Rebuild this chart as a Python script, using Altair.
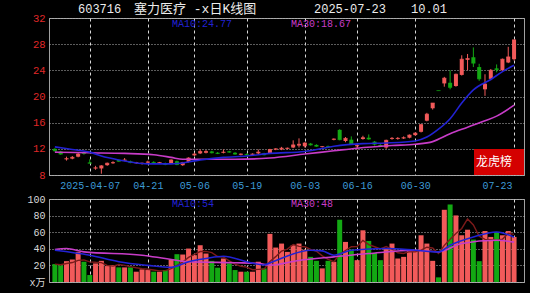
import altair as alt
import pandas as pd

# ---------------- values ----------------
opens = [12.0, 11.6, 10.4, 10.5, 10.8, 11.5, 9.9, 9.0, 9.0, 9.5,
         9.8, 10.3, 10.2, 10.1, 9.8, 9.7, 9.9, 10.0, 9.8, 9.8,
         9.8, 10.1, 9.5, 10.0, 11.0, 11.3, 11.4, 11.6, 11.4, 11.4,
         11.6, 11.4, 11.1, 11.2, 11.1, 11.3, 11.3, 11.3, 11.9, 11.9,
         12.0, 12.2, 12.5, 12.4, 12.8, 12.6, 12.3, 12.4, 13.4, 14.9,
         13.2, 13.4, 12.4, 13.5, 13.7, 13.1, 12.6, 12.2, 13.5, 13.5,
         13.6, 13.7, 14.1, 14.6, 16.3, 18.2, 20.92, 22.0, 22.1, 21.6,
         23.3, 25.6, 26.0, 24.5, 21.1, 22.7, 24.3, 24.0, 25.2, 25.7]
highs = [12.1, 11.7, 10.8, 10.9, 11.4, 11.6, 10.4, 9.4, 9.5, 9.9,
         10.1, 10.4, 10.6, 10.2, 10.0, 9.9, 10.2, 10.1, 10.0, 9.9,
         10.4, 10.2, 10.0, 10.7, 11.4, 11.9, 11.8, 11.7, 11.5, 11.9,
         11.7, 11.5, 11.3, 11.3, 11.3, 11.9, 11.4, 12.0, 12.1, 12.3,
         12.2, 13.3, 13.6, 13.0, 12.9, 12.7, 12.4, 12.5, 13.6, 15.0,
         13.8, 13.9, 12.9, 14.0, 14.2, 13.2, 12.7, 13.4, 13.8, 13.8,
         13.9, 14.2, 14.5, 15.8, 17.5, 19.0, 20.92, 23.0, 24.0, 23.5,
         26.3, 26.5, 27.5, 25.0, 23.4, 24.2, 24.9, 25.8, 27.6, 28.66]
lows = [11.6, 11.1, 10.2, 10.4, 10.7, 11.1, 9.8, 8.8, 8.2, 9.4,
        9.7, 10.0, 10.1, 9.8, 9.7, 9.6, 9.8, 9.8, 9.7, 9.5,
        9.7, 9.5, 9.4, 9.9, 10.9, 11.2, 11.3, 11.3, 11.2, 11.3,
        11.4, 11.1, 11.0, 11.0, 11.0, 11.2, 11.0, 11.2, 11.8, 11.8,
        11.9, 12.1, 12.2, 12.2, 12.5, 12.3, 12.2, 12.2, 13.3, 13.3,
        13.0, 12.6, 11.9, 13.4, 13.4, 12.5, 12.3, 12.0, 13.4, 13.4,
        13.5, 13.6, 14.0, 14.5, 16.2, 18.0, 20.9, 21.5, 21.1, 21.5,
        23.2, 24.0, 24.5, 22.4, 20.1, 22.5, 23.7, 23.9, 25.1, 25.5]
closes = [11.7, 11.2, 10.5, 10.7, 11.2, 11.3, 9.8, 9.1, 9.4, 9.8,
          9.9, 10.1, 10.3, 9.9, 9.9, 9.8, 10.0, 9.9, 9.9, 9.6,
          10.3, 9.6, 9.9, 10.6, 11.2, 11.6, 11.6, 11.4, 11.3, 11.5,
          11.5, 11.2, 11.2, 11.1, 11.2, 11.5, 11.1, 11.9, 12.0, 12.1,
          12.1, 12.6, 12.7, 12.9, 12.6, 12.4, 12.35, 12.3, 13.5, 13.4,
          13.6, 12.7, 12.5, 13.7, 13.5, 12.7, 12.4, 13.3, 13.6, 13.6,
          13.7, 14.1, 14.4, 15.7, 17.3, 19.0, 20.9, 22.8, 21.4, 23.4,
          25.7, 25.8, 25.1, 22.7, 21.9, 24.0, 24.1, 25.7, 26.05, 28.66]
volumes = [21.6, 20.0, 25.1, 27.1, 36.3, 24.4, 8.4, 22.4, 25.5, 19.2,
           20.4, 17.6, 17.6, 17.6, 12.4, 15.2, 14.4, 12.4, 12.4, 14.4,
           27.1, 33.5, 33.1, 40.3, 32.3, 44.3, 34.3, 25.5, 17.2, 28.3,
           22.4, 14.4, 12.4, 12.4, 12.4, 24.4, 16.4, 58.0, 41.5, 46.3,
           36.3, 44.3, 46.3, 39.0, 30.3, 25.5, 16.4, 25.5, 24.4, 75.0,
           48.3, 39.0, 26.3, 62.3, 49.5, 35.1, 26.3, 40.3, 46.3, 28.3,
           30.3, 38.3, 38.3, 56.3, 46.3, 25.5, 5.6, 87.0, 93.4, 80.2,
           56.3, 63.0, 51.1, 25.1, 61.4, 54.3, 60.3, 56.3, 61.4, 54.3]

date_idx = [6, 16, 24, 33, 43, 52, 62, 79]
date_lbl = ["2025-04-07", "04-21", "05-06", "05-19", "06-03", "06-16", "06-30", "07-23"]

ma10_idx = [0, 3, 6, 8, 11, 13, 16, 20, 23, 25, 29, 33, 37, 43, 48, 53, 57, 62, 64, 66, 68, 70, 72, 75, 77, 79]
ma10_val = [12.3, 11.9, 11.5, 10.9, 10.3, 10.0, 9.7, 9.7, 10.0, 10.3, 10.7, 10.9, 11.3, 11.6, 12.4, 12.8,
            12.9, 13.2, 13.8, 15.0, 16.6, 19.0, 21.0, 22.6, 23.8, 24.77]
ma30_idx = [0, 6, 12, 17, 20, 22, 25, 31, 37, 43, 48, 52, 58, 62, 65, 68, 71, 74, 76, 79]
ma30_val = [11.5, 11.4, 11.3, 11.1, 10.7, 10.4, 10.4, 10.4, 10.6, 11.2, 11.7, 12.1, 12.5, 12.7, 13.1,
            14.3, 15.3, 16.3, 17.0, 18.67]
vma10_idx = [0, 6, 11, 16, 20, 23, 26, 29, 33, 36, 37, 44, 46, 48, 51, 57, 62, 66, 68, 72, 76, 79]
vma10_val = [38.3, 32.3, 24.4, 20.0, 17.6, 24.4, 28.3, 31.0, 24.4, 20.5, 23.0, 38.3, 37.5, 32.3, 38.3,
             40.3, 38.3, 36.3, 44.3, 54.3, 60.3, 54.0]
vma30_idx = [0, 2, 5, 15, 19, 23, 31, 35, 37, 42, 48, 54, 62, 66, 70, 76, 79]
vma30_val = [39.0, 40.3, 36.3, 32.3, 28.3, 24.4, 23.2, 22.4, 20.4, 26.0, 30.3, 34.3, 38.3, 36.3, 46.3, 50.3, 48.0]

price_ticks = [8, 12, 16, 20, 24, 28, 32]
vol_ticks = [0, 20, 40, 60, 80, 100]

header = ["603716", "塞力医疗 -x日K线图", "2025-07-23", "10.01"]

# ---------------- styles ----------------
RED = "#f25a5a"
GREEN = "#13a813"
BLUE = "#2222d4"
PURPLE = "#c83cc8"
DARKRED = "#7c1a1a"
MONO = "Liberation Mono, Noto Sans CJK SC"
CJK = "Liberation Mono, Noto Sans CJK SC"

n = len(closes)
df = pd.DataFrame({"i": list(range(n)), "open": opens, "high": highs, "low": lows,
                   "close": closes, "vol": volumes})
df["dir"] = ["up" if c >= o else "down" for o, c in zip(opens, closes)]

ma10_df = pd.DataFrame({"i": ma10_idx, "v": ma10_val})
ma30_df = pd.DataFrame({"i": ma30_idx, "v": ma30_val})
vma10_df = pd.DataFrame({"i": vma10_idx, "v": vma10_val})
vma30_df = pd.DataFrame({"i": vma30_idx, "v": vma30_val})

xscale = alt.Scale(domain=[-0.15, 79.85], nice=False, zero=False)
pscale = alt.Scale(domain=[8, 32], nice=False, zero=False)
vscale = alt.Scale(domain=[0, 100], nice=False)
color = alt.Color("dir:N", scale=alt.Scale(domain=["up", "down"], range=[RED, GREEN]), legend=None)

label_expr = "[" + ",".join(repr(s) for s in date_lbl) + "][indexof([" + ",".join(str(v) for v in date_idx) + "], datum.value)]"
last_test = f"datum.value == {date_idx[-1]}"

x_top_axis = alt.Axis(values=date_idx, labelExpr=label_expr, labelColor="#3d9ad6", labelFont=MONO,
                      labelFontSize=10, labelPadding=5, ticks=False, domain=False, grid=True,
                      gridColor="#d8d8d8", gridDash=[3, 3], gridWidth=1, labelFlush=False,
                      labelAlign={"condition": {"test": last_test, "value": "right"}, "value": "center"},
                      labelOffset={"condition": {"test": last_test, "value": -2}, "value": 0},
                      labelOverlap=False, title=None)
x_bot_axis = alt.Axis(values=date_idx, labels=False, ticks=False, domain=False, grid=True,
                      gridColor="#d8d8d8", gridDash=[3, 3], gridWidth=1, title=None)
y_price_axis = alt.Axis(values=price_ticks, labelColor="#e02828", labelFont=MONO, labelFontSize=10.5,
                        labelPadding=4, ticks=False, domain=False, grid=True, gridColor="#b8b8b8",
                        gridDash=[1, 2], gridWidth=1, title=None, labelOverlap=False)
y_vol_axis = alt.Axis(values=vol_ticks, labelExpr="datum.value == 0 ? 'x万' : datum.value",
                      labelColor="#d8d8d8", labelFont=MONO, labelFontSize=10, labelPadding=4,
                      ticks=False, domain=False, grid=True, gridColor="#b8b8b8", gridDash=[1, 2],
                      gridWidth=1, title=None, labelOverlap=False)

X_top = alt.X("i:Q", scale=xscale, axis=x_top_axis)
X_bot = alt.X("i:Q", scale=xscale, axis=x_bot_axis)


def label(text, x, y, col, size=10, font=MONO, align="left"):
    return alt.Chart(pd.DataFrame({"t": [text]})).mark_text(
        align=align, baseline="middle", font=font, fontSize=size, color=col
    ).encode(x=alt.value(x), y=alt.value(y), text="t:N")


# ---------------- price panel ----------------
wick = alt.Chart(df).mark_rule(strokeWidth=1).encode(
    x=X_top, y=alt.Y("low:Q", scale=pscale, axis=y_price_axis), y2="high:Q", color=color)
body = alt.Chart(df).mark_bar(size=4).encode(
    x=X_top, y=alt.Y("open:Q", scale=pscale, axis=y_price_axis), y2="close:Q", color=color)
doji = alt.Chart(df).mark_tick(thickness=1, size=4, orient="horizontal").encode(
    x=X_top, y=alt.Y("close:Q", scale=pscale, axis=y_price_axis), color=color)
l10 = alt.Chart(ma10_df).mark_line(color=BLUE, strokeWidth=1.6, interpolate="monotone").encode(
    x=X_top, y=alt.Y("v:Q", scale=pscale, axis=y_price_axis))
l30 = alt.Chart(ma30_df).mark_line(color=PURPLE, strokeWidth=1.6, interpolate="monotone").encode(
    x=X_top, y=alt.Y("v:Q", scale=pscale, axis=y_price_axis))

box = alt.Chart(pd.DataFrame({"t": ["龙虎榜"]})).mark_rect(color="#d40000").encode(
    x=alt.value(425), x2=alt.value(475), y=alt.value(131), y2=alt.value(157))

top = alt.layer(
    wick, body, doji, l30, l10, box,
    label("龙虎榜", 427, 144, "#ffffff", 12, CJK),
    label(f"MA10:{ma10_val[-1]:.2f}", 123, 6, BLUE),
    label(f"MA30:{ma30_val[-1]:.2f}", 242, 6, PURPLE),
    label(header[0], 29, -9, "#ececec", 12),
    label(header[1], 85, -9, "#ececec", 13, CJK),
    label(header[2], 265, -9, "#ececec", 12),
    label(header[3], 362, -9, "#ececec", 12),
).properties(width=475, height=157)

# ---------------- volume panel ----------------
vbars = alt.Chart(df).mark_bar(size=5).encode(
    x=X_bot, y=alt.Y("vol:Q", scale=vscale, axis=y_vol_axis), color=color)
vma5 = alt.Chart(df).transform_window(
    ma5="mean(vol)", frame=[-4, 0], sort=[alt.SortField("i")]
).mark_line(color=DARKRED, strokeWidth=1.4).encode(
    x=X_bot, y=alt.Y("ma5:Q", scale=vscale, axis=y_vol_axis))
v10 = alt.Chart(vma10_df).mark_line(color=BLUE, strokeWidth=1.6, interpolate="monotone").encode(
    x=X_bot, y=alt.Y("v:Q", scale=vscale, axis=y_vol_axis))
v30 = alt.Chart(vma30_df).mark_line(color=PURPLE, strokeWidth=1.6, interpolate="monotone").encode(
    x=X_bot, y=alt.Y("v:Q", scale=vscale, axis=y_vol_axis))

bottom = alt.layer(
    vbars, vma5, v30, v10,
    label(f"MA10:{vma10_val[-1]:.0f}", 123, 5, BLUE),
    label(f"MA30:{vma30_val[-1]:.0f}", 242, 5, PURPLE),
).properties(width=475, height=83)

chart = alt.vconcat(top, bottom, spacing=24, bounds="flush").properties(
    background="#000000",
    padding={"left": 26, "top": 2, "right": 5, "bottom": 5},
).configure_view(stroke="#a0a0a0", strokeWidth=1)

chart.save("out.html", embed_options={"renderer": "svg", "actions": False})
